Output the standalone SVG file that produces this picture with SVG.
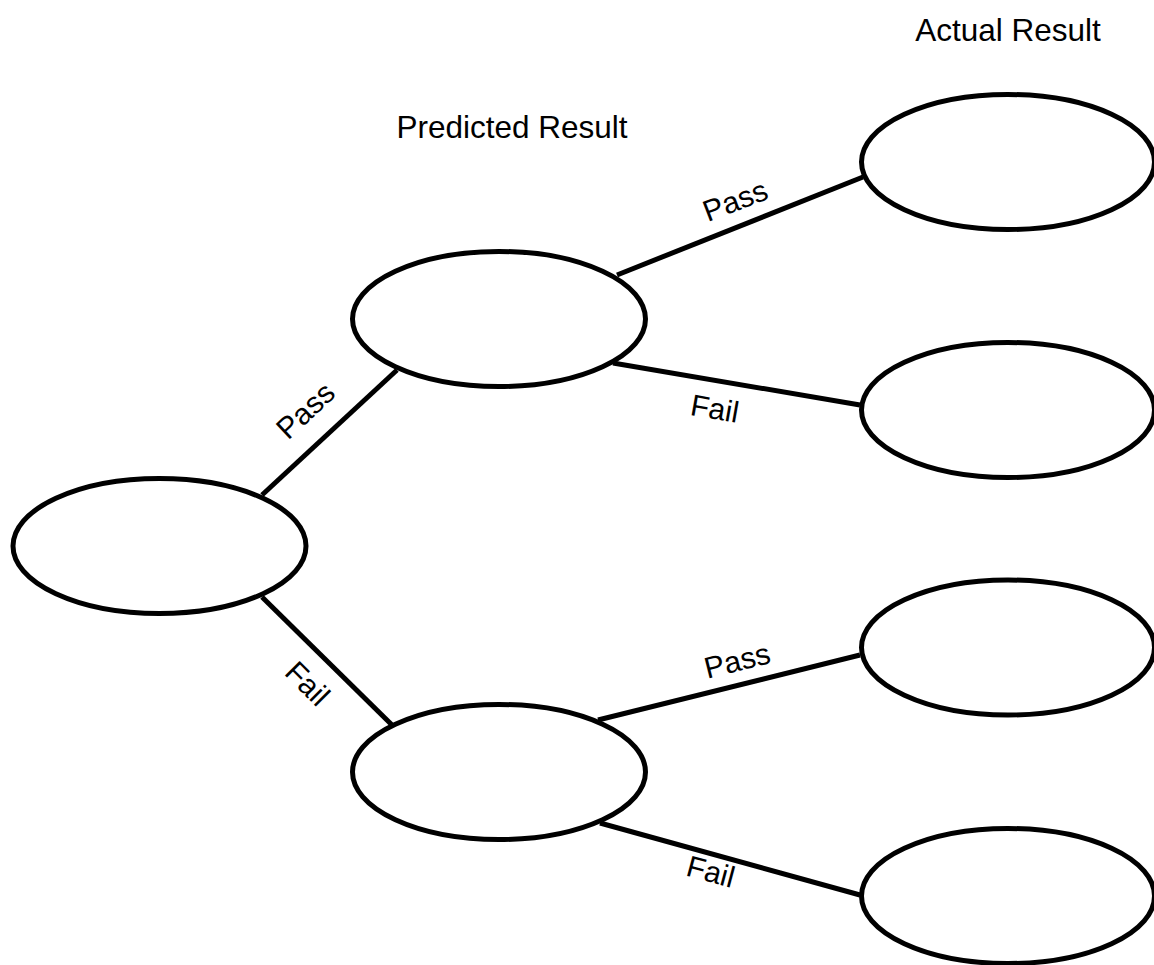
<svg xmlns="http://www.w3.org/2000/svg" width="1154" height="965" viewBox="0 0 1154 965">
<style>
.node{fill:#fff;stroke:#000;stroke-width:5}
.edge{stroke:#000;stroke-width:5;fill:none}
.lbl{font-family:"Liberation Sans",Arial,sans-serif;font-size:30px;fill:#000;text-anchor:middle}
.hdr{font-family:"Liberation Sans",Arial,sans-serif;font-size:31.5px;fill:#000;text-anchor:middle}
</style>
<rect width="1154" height="965" fill="#fff"/>
<g id="connectors">
<line class="edge" x1="262" y1="495" x2="397" y2="370"/>
<line class="edge" x1="262" y1="597" x2="392" y2="725"/>
<line class="edge" x1="617" y1="275" x2="863" y2="177"/>
<line class="edge" x1="613" y1="363" x2="860" y2="405"/>
<line class="edge" x1="598" y1="720" x2="860" y2="655"/>
<line class="edge" x1="600" y1="823" x2="860" y2="895"/>
</g>
<g id="labels">
<text class="lbl" transform="translate(305,410) rotate(-43)" y="11">Pass</text>
<text class="lbl" transform="translate(308,683) rotate(45)" y="11">Fail</text>
<text class="lbl" transform="translate(735,200) rotate(-21)" y="11">Pass</text>
<text class="lbl" transform="translate(715,408) rotate(10)" y="11">Fail</text>
<text class="lbl" transform="translate(737,660) rotate(-14)" y="11">Pass</text>
<text class="lbl" transform="translate(711,871) rotate(15)" y="11">Fail</text>
</g>
<g id="headers">
<text class="hdr" x="512" y="138">Predicted Result</text>
<text class="hdr" x="1008" y="41">Actual Result</text>
</g>
<g id="root"><ellipse class="node" cx="159.5" cy="546" rx="146.5" ry="67.5"/></g>
<g id="pred-pass"><ellipse class="node" cx="499" cy="319" rx="146.5" ry="67.5"/></g>
<g id="pred-fail"><ellipse class="node" cx="499" cy="772" rx="146.5" ry="67.5"/></g>
<g id="act-pp"><ellipse class="node" cx="1008" cy="162" rx="146.5" ry="67.5"/></g>
<g id="act-pf"><ellipse class="node" cx="1008" cy="410" rx="146.5" ry="67.5"/></g>
<g id="act-fp"><ellipse class="node" cx="1008" cy="647.5" rx="146.5" ry="67.5"/></g>
<g id="act-ff"><ellipse class="node" cx="1008" cy="896" rx="146.5" ry="67.5"/></g>
</svg>
